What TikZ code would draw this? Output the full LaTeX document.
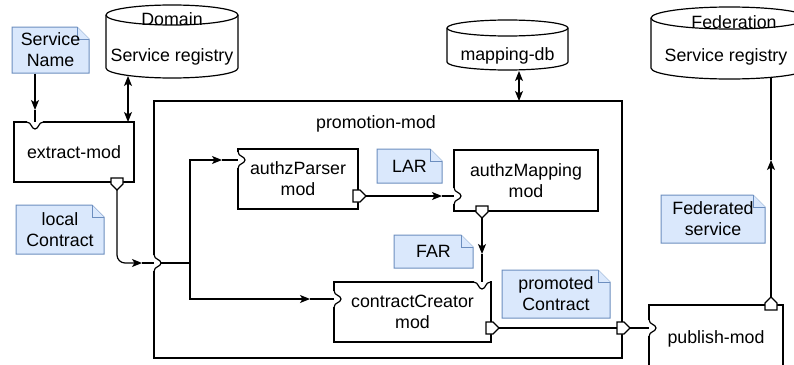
\documentclass[tikz,border=0pt]{standalone}
\usepackage{fontspec}
\setmainfont{Liberation Sans}
\usetikzlibrary{arrows.meta}
\definecolor{notefill}{HTML}{DAE8FC}
\definecolor{notedraw}{HTML}{6C8EBF}
\newcommand\lnotch[2]{%
  \fill[white] ({#1-1.3},{#2-8}) rectangle ({#1+1.3},{#2+8});
  \draw ({#1},{#2-8.6}) .. controls ({#1},{#2-3}) and ({#1+7},{#2-4}) .. ({#1+7},{#2}) .. controls ({#1+7},{#2+4}) and ({#1},{#2+3}) .. ({#1},{#2+8.6});}
\newcommand\tnotch[2]{%
  \fill[white] ({#1-8},{#2-1.3}) rectangle ({#1+8},{#2+1.3});
  \draw ({#1-8.6},{#2}) .. controls ({#1-3},{#2}) and ({#1-4},{#2+7}) .. ({#1},{#2+7}) .. controls ({#1+4},{#2+7}) and ({#1+3},{#2}) .. ({#1+8.6},{#2});}
\newcommand\portR[3]{%
  \draw[fill=white] ({#2},{#3-6}) -- ({#2+7},{#3-6}) -- ({#2+13},{#3}) -- ({#2+7},{#3+6}) -- ({#2},{#3+6}) -- cycle;
  \coordinate (#1) at ({#2+13},{#3});}
\newcommand\portD[3]{%
  \draw[fill=white] ({#2-6},{#3}) -- ({#2+6},{#3}) -- ({#2+6},{#3+6}) -- ({#2},{#3+12}) -- ({#2-6},{#3+6}) -- cycle;
  \coordinate (#1) at ({#2},{#3+12});}
\newcommand\portU[3]{%
  \draw[fill=white] ({#2-6},{#3}) -- ({#2+6},{#3}) -- ({#2+6},{#3-7}) -- ({#2},{#3-13}) -- ({#2-6},{#3-7}) -- cycle;
  \coordinate (#1) at ({#2},{#3-13});}
\newcommand\cylshape[5]{%
  \pgfmathsetmacro\cylrx{(#2-#1)/2}%
  \draw[fill=white] (#1,{#3+#5}) -- (#1,{#4-#5}) arc[start angle=180,end angle=360,x radius=\cylrx pt,y radius=#5 pt] -- (#2,{#3+#5}) arc[start angle=0,end angle=180,x radius=\cylrx pt,y radius=#5 pt] -- cycle;
  \draw (#1,{#3+#5}) arc[start angle=180,end angle=360,x radius=\cylrx pt,y radius=#5 pt];}
\newcommand\mynote[6]{%
  \draw[notestyle] (#2,#3) -- ({#4-12},#3) -- (#4,{#3+12}) -- (#4,#5) -- (#2,#5) -- cycle;
  \draw[notestyle] ({#4-12},#3) -- ({#4-12},{#3+12}) -- (#4,{#3+12});
  \node[minimum width={(#4-#2)*1pt}, minimum height={(#5-#3)*1pt}] (#1) at ({(#2+#4)/2},{(#3+#5)/2}) {#6};}
\begin{document}
\begin{tikzpicture}[x=1pt,y=-1pt,line width=1.2pt,
  every node/.style={font=\fontsize{17.8}{21}\selectfont, inner sep=0pt, align=center},
  box/.style={draw, fill=white, line width=1.2pt},
  arr/.style={-{Stealth[length=10pt,width=8pt,inset=2.5pt]}},
  darr/.style={{Stealth[length=10pt,width=8pt,inset=2.5pt]}-{Stealth[length=10pt,width=8pt,inset=2.5pt]}},
  notestyle/.style={draw=notedraw, fill=notefill, line width=1pt}]
\useasboundingbox (0,0) rectangle (794,364);
\clip (0,0) rectangle (794,364);
\fill[white] (0,0) rectangle (794,364);

% cylinders
\cylshape{106}{238}{5}{78}{10}
\node (dom) at (172,19.6) {Domain};
\node (domsr) at (172,56.4) {Service registry};
\cylshape{447}{568}{20}{70}{8}
\node (mdb) at (507.5,55.4) {mapping-db};
\cylshape{651}{808}{7}{79}{11}
\node (fed) at (734,22.5) {Federation};
\node (fedsr) at (726,56.4) {Service registry};

% boxes
\node[box, minimum width=120pt, minimum height=60pt] (ext) at (74,152) {extract-mod};
\node[box, minimum width=468pt, minimum height=257pt] (prom) at (388,229.5) {};
\node (promlbl) at (376,123.4) {promotion-mod};
\node[box, minimum width=120pt, minimum height=60pt] (ap) at (298,179) {authzParser\\mod};
\node[box, minimum width=144pt, minimum height=61pt] (am) at (526,180.5) {authzMapping\\mod};
\node[box, minimum width=157pt, minimum height=60pt] (cc) at (412.5,312) {contractCreator\\mod};
\node[box, minimum width=134pt, minimum height=67pt] (pub) at (716,338.5) {publish-mod};

% notes
\mynote{sn}{12}{27}{89}{73}{Service\\Name}
\mynote{lc}{16}{205}{104}{254}{local\\Contract}
\mynote{lar}{377}{149}{442}{183}{LAR}
\mynote{far}{394}{235}{473}{268}{FAR}
\mynote{pc}{502}{270}{610}{318}{promoted\\Contract}
\mynote{fs}{661}{195}{765}{243}{Federated\\service}

% notches
\tnotch{35}{122}
\lnotch{238}{160}
\lnotch{454}{196}
\lnotch{334}{299}
\tnotch{482}{282}
\lnotch{154}{263}
\lnotch{649}{328}

% ports
\portD{extOut}{117}{178}
\portR{apOut}{353}{196}
\portD{amOut}{482}{206}
\portR{ccOut}{486}{328}
\portR{promOut}{617}{328}
\portU{pubOut}{771}{310}

% coordinates
\coordinate (extIn) at (35,122);
\coordinate (snTip) at (35,110);
\coordinate (domB) at (128,76);
\coordinate (extT) at (128,122);
\coordinate (mdbB) at (519,71);
\coordinate (promT) at (519,101);
\coordinate (locTip) at (142,263);
\coordinate (promIn) at (154,263);
\coordinate (promIn2) at (161,263);
\coordinate (split) at (190,263);
\coordinate (apTip) at (222,160);
\coordinate (apIn) at (238,160);
\coordinate (ccTip) at (310,299);
\coordinate (ccIn) at (334,299);
\coordinate (amTip) at (442,196);
\coordinate (amIn) at (454,196);
\coordinate (ccTopTip) at (482,254);
\coordinate (ccTop) at (482,282);
\coordinate (promPin) at (617,328);
\coordinate (pubIn) at (649,328);
\coordinate (fedTip) at (771,160);
\coordinate (fedB) at (771,77);

% connectors
\draw[arr] (sn.south -| extIn) -- (snTip);
\draw (snTip) -- (extIn);
\draw[darr] (domB) -- (extT);
\draw[darr] (mdbB) -- (promT);
\draw[arr, rounded corners=8pt] (extOut) |- (locTip);
\draw (locTip) -- (promIn);
\draw (promIn2) -- (split);
\draw[arr] (split) |- (apTip);
\draw (apTip) -- (apIn);
\draw[arr] (split) |- (ccTip);
\draw (ccTip) -- (ccIn);
\draw[arr] (apOut) -- (amTip);
\draw (amTip) -- (amIn);
\draw[arr] (amOut) -- (ccTopTip);
\draw (ccTopTip) -- (ccTop);
\draw (ccOut) -- (promPin);
\draw (promOut) -- (pubIn);
\draw[arr] (pubOut) -- (fedTip);
\draw (fedTip) -- (fedB);
\end{tikzpicture}
\end{document}
